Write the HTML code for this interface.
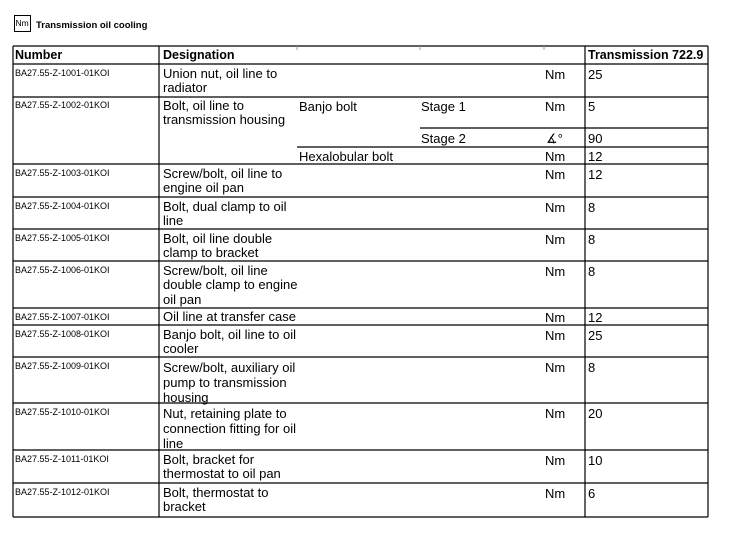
<!DOCTYPE html>
<html><head><meta charset="utf-8"><style>
body{margin:0;background:#fff;width:731px;height:540px;position:relative;overflow:hidden;font-family:"Liberation Sans",Arial,sans-serif;color:#000}
.t{position:absolute;white-space:nowrap}
.n{font-size:9px;left:15px}
.d{font-size:13px;line-height:14.3px;left:163px}
.u{font-size:13px;left:545px}
.v{font-size:13px;left:588px}
.h{font-size:12.5px;font-weight:bold}
svg{position:absolute;left:0;top:0}
</style></head><body>
<svg width="731" height="540">
<rect x="14.5" y="15.5" width="16" height="16" fill="none" stroke="#000" stroke-width="1"/>
<g stroke="#000" stroke-width="1.2" fill="none">
<line x1="13" y1="46" x2="708" y2="46"/>
<line x1="13" y1="64" x2="708" y2="64"/>
<line x1="13" y1="97" x2="708" y2="97"/>
<line x1="420" y1="128" x2="708" y2="128"/>
<line x1="297" y1="147" x2="708" y2="147"/>
<line x1="13" y1="164" x2="708" y2="164"/>
<line x1="13" y1="197" x2="708" y2="197"/>
<line x1="13" y1="229" x2="708" y2="229"/>
<line x1="13" y1="261" x2="708" y2="261"/>
<line x1="13" y1="308" x2="708" y2="308"/>
<line x1="13" y1="325" x2="708" y2="325"/>
<line x1="13" y1="357" x2="708" y2="357"/>
<line x1="13" y1="403" x2="708" y2="403"/>
<line x1="13" y1="450" x2="708" y2="450"/>
<line x1="13" y1="483" x2="708" y2="483"/>
<line x1="13" y1="517" x2="708" y2="517"/>
<line x1="13" y1="46" x2="13" y2="517"/>
<line x1="159" y1="46" x2="159" y2="517"/>
<line x1="585" y1="46" x2="585" y2="517"/>
<line x1="708" y1="46" x2="708" y2="517"/>
</g>
<g stroke="#999" stroke-width="1">
<line x1="297" y1="46" x2="297" y2="50"/>
<line x1="420" y1="46" x2="420" y2="50"/>
<line x1="544" y1="46" x2="544" y2="50"/>
</g>
</svg>
<div class="t" style="left:15.5px;top:18px;font-size:8.5px;line-height:10px">Nm</div>
<div class="t" style="left:36px;top:20px;font-size:9.5px;font-weight:bold">Transmission oil cooling</div>

<div class="t h" style="left:15px;top:48px">Number</div>
<div class="t h" style="left:163px;top:48px">Designation</div>
<div class="t h" style="left:588px;top:48px">Transmission 722.9</div>

<div class="t n" style="top:68px">BA27.55-Z-1001-01KOI</div>
<div class="t d" style="top:67px">Union nut, oil line to<br>radiator</div>
<div class="t u" style="top:67px">Nm</div><div class="t v" style="top:67px">25</div>

<div class="t n" style="top:100px">BA27.55-Z-1002-01KOI</div>
<div class="t d" style="top:99px">Bolt, oil line to<br>transmission housing</div>
<div class="t" style="left:299px;top:99px;font-size:13px">Banjo bolt</div>
<div class="t" style="left:421px;top:99px;font-size:13px">Stage 1</div>
<div class="t u" style="top:99px">Nm</div><div class="t v" style="top:99px">5</div>
<div class="t" style="left:421px;top:131px;font-size:13px">Stage 2</div>
<div class="t u" style="top:131px;left:546px">∡°</div><div class="t v" style="top:131px">90</div>
<div class="t" style="left:299px;top:149px;font-size:13px">Hexalobular bolt</div>
<div class="t u" style="top:149px">Nm</div><div class="t v" style="top:149px">12</div>

<div class="t n" style="top:168px">BA27.55-Z-1003-01KOI</div>
<div class="t d" style="top:167px">Screw/bolt, oil line to<br>engine oil pan</div>
<div class="t u" style="top:167px">Nm</div><div class="t v" style="top:167px">12</div>

<div class="t n" style="top:201px">BA27.55-Z-1004-01KOI</div>
<div class="t d" style="top:200px">Bolt, dual clamp to oil<br>line</div>
<div class="t u" style="top:200px">Nm</div><div class="t v" style="top:200px">8</div>

<div class="t n" style="top:233px">BA27.55-Z-1005-01KOI</div>
<div class="t d" style="top:232px">Bolt, oil line double<br>clamp to bracket</div>
<div class="t u" style="top:232px">Nm</div><div class="t v" style="top:232px">8</div>

<div class="t n" style="top:265px">BA27.55-Z-1006-01KOI</div>
<div class="t d" style="top:264px">Screw/bolt, oil line<br>double clamp to engine<br>oil pan</div>
<div class="t u" style="top:264px">Nm</div><div class="t v" style="top:264px">8</div>

<div class="t n" style="top:312px">BA27.55-Z-1007-01KOI</div>
<div class="t d" style="top:310px">Oil line at transfer case</div>
<div class="t u" style="top:310px">Nm</div><div class="t v" style="top:310px">12</div>

<div class="t n" style="top:329px">BA27.55-Z-1008-01KOI</div>
<div class="t d" style="top:328px">Banjo bolt, oil line to oil<br>cooler</div>
<div class="t u" style="top:328px">Nm</div><div class="t v" style="top:328px">25</div>

<div class="t n" style="top:361px">BA27.55-Z-1009-01KOI</div>
<div class="t d" style="top:360px;line-height:15px">Screw/bolt, auxiliary oil<br>pump to transmission<br>housing</div>
<div class="t u" style="top:360px">Nm</div><div class="t v" style="top:360px">8</div>

<div class="t n" style="top:407px">BA27.55-Z-1010-01KOI</div>
<div class="t d" style="top:406px;line-height:15px">Nut, retaining plate to<br>connection fitting for oil<br>line</div>
<div class="t u" style="top:406px">Nm</div><div class="t v" style="top:406px">20</div>

<div class="t n" style="top:454px">BA27.55-Z-1011-01KOI</div>
<div class="t d" style="top:453px">Bolt, bracket for<br>thermostat to oil pan</div>
<div class="t u" style="top:453px">Nm</div><div class="t v" style="top:453px">10</div>

<div class="t n" style="top:487px">BA27.55-Z-1012-01KOI</div>
<div class="t d" style="top:486px">Bolt, thermostat to<br>bracket</div>
<div class="t u" style="top:486px">Nm</div><div class="t v" style="top:486px">6</div>
</body></html>
